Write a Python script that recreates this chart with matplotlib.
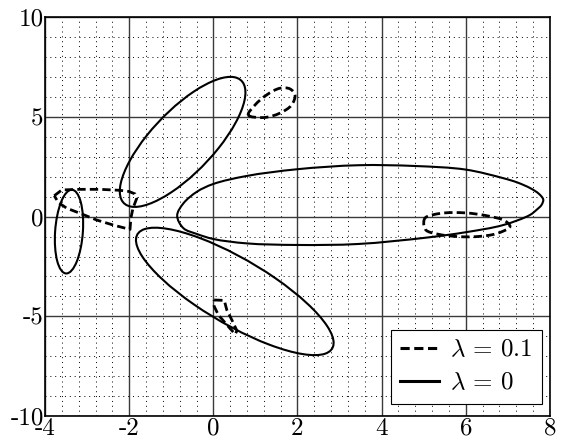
import numpy as np
import matplotlib
matplotlib.use("Agg")
import matplotlib.pyplot as plt
from matplotlib.patches import Ellipse, PathPatch
from matplotlib.path import Path
from matplotlib.lines import Line2D
from matplotlib.ticker import MultipleLocator

plt.rcParams['font.family'] = 'serif'
plt.rcParams['font.serif'] = ['cmr10', 'DejaVu Serif']
plt.rcParams['mathtext.fontset'] = 'cm'
plt.rcParams['axes.unicode_minus'] = False

# ---- data ----
x_ticks = [-4, -2, 0, 2, 4, 6, 8]
x_tick_labels = ['-4', '-2', '0', '2', '4', '6', '8']
y_ticks = [-10, -5, 0, 5, 10]
y_tick_labels = ['-10', '-5', '0', '5', '10']

# solid (lambda = 0) ellipses: centre x, centre y, full major axis, full minor axis, angle (deg)
ell_cx = [-3.43, -0.73, 0.51]
ell_cy = [-0.75, 3.75, -3.75]
ell_major = [4.20, 6.94, 7.58]
ell_minor = [0.66, 1.82, 2.34]
ell_angle = [88.2, 69.3, -55.6]

# solid (lambda = 0) egg-shaped orbit
egg_x = [-0.86, -0.71, -0.39, 0.00, 0.79, 2.00, 3.45, 5.07, 6.00, 6.89, 7.52, 7.68, 7.80,
         7.84, 7.74, 7.54, 7.23, 6.89, 6.00, 4.80, 3.45, 2.00, 0.79, 0.00, -0.39, -0.71]
egg_y = [0.05, -0.58, -0.87, -1.12, -1.34, -1.42, -1.37, -1.05, -0.78, -0.42, 0.08, 0.34, 0.59,
         0.86, 1.14, 1.42, 1.71, 1.93, 2.36, 2.54, 2.58, 2.38, 2.04, 1.64, 1.25, 0.67]

# dashed (lambda = 0.1) orbits
d1_x = [-3.78, -3.60, -3.17, -2.69, -2.21, -2.00, -1.86, -1.82, -1.91, -1.96, -1.98, -2.38, -2.77, -3.17, -3.48, -3.68]
d1_y = [1.05, 1.34, 1.37, 1.37, 1.32, 1.26, 1.14, 0.92, 0.42, -0.08, -0.64, -0.42, -0.17, 0.17, 0.42, 0.70]

d2_x = [0.83, 1.19, 1.58, 1.86, 1.94, 1.82, 1.58, 1.27, 0.99]
d2_y = [5.10, 4.97, 5.19, 5.60, 6.11, 6.41, 6.44, 6.11, 5.60]

d3_x = [5.00, 5.04, 5.42, 5.98, 6.49, 6.93, 7.05, 6.73, 6.26, 5.82, 5.34, 5.05]
d3_y = [-0.30, -0.05, 0.17, 0.19, 0.05, -0.21, -0.50, -0.85, -1.00, -1.00, -0.88, -0.67]

d4_x = [0.02, 0.26, 0.32, 0.44, 0.56, 0.52, 0.36, 0.12, 0.02]
d4_y = [-4.18, -4.20, -4.68, -5.18, -5.72, -5.90, -5.52, -4.93, -4.50]

# approximate pixel scale of one data unit (x, y) used only for curve parameterisation
SX, SY = 42.0, 20.0


def smooth_closed_path(xs, ys, alpha=0.5):
    """Centripetal Catmull-Rom through the points, expressed as cubic Bezier segments."""
    p = np.column_stack([xs, ys]).astype(float)
    n = len(p)
    scale = np.array([SX, SY])

    def d(a, b):
        return max(np.linalg.norm((b - a) * scale) ** alpha, 1e-6)

    verts = [p[0]]
    codes = [Path.MOVETO]
    for i in range(n):
        p0, p1, p2, p3 = p[i - 1], p[i], p[(i + 1) % n], p[(i + 2) % n]
        d1, d2, d3 = d(p0, p1), d(p1, p2), d(p2, p3)
        c1 = (d1 ** 2 * p2 - d2 ** 2 * p0 + (2 * d1 ** 2 + 3 * d1 * d2 + d2 ** 2) * p1) / (3 * d1 * (d1 + d2))
        c2 = (d3 ** 2 * p1 - d2 ** 2 * p3 + (2 * d3 ** 2 + 3 * d3 * d2 + d2 ** 2) * p2) / (3 * d3 * (d3 + d2))
        verts += [c1, c2, p2]
        codes += [Path.CURVE4] * 3
    return Path(np.array(verts), codes)


def poly_closed_path(xs, ys):
    p = np.column_stack([xs, ys]).astype(float)
    verts = np.vstack([p, p[:1]])
    codes = [Path.MOVETO] + [Path.LINETO] * (len(p) - 1) + [Path.CLOSEPOLY]
    return Path(verts, codes)


fig = plt.figure(figsize=(5.62, 4.40), dpi=100)
ax = fig.add_axes([0.0801, 0.0545, 0.8985, 0.9062])
ax.set_xlim(-4, 8)
ax.set_ylim(-10, 10)

ax.xaxis.set_minor_locator(MultipleLocator(0.4))
ax.yaxis.set_minor_locator(MultipleLocator(1))
ax.set_xticks(x_ticks)
ax.set_xticklabels(x_tick_labels)
ax.set_yticks(y_ticks)
ax.set_yticklabels(y_tick_labels)
ax.grid(True, which='major', color='#3a3a3a', linestyle='-', linewidth=1.0)
ax.grid(True, which='minor', color='black', linestyle=(0, (1, 4)), linewidth=0.7)
ax.set_axisbelow(True)
ax.tick_params(which='both', length=0, labelsize=18, pad=1)
for s in ax.spines.values():
    s.set_linewidth(1.2)
    s.set_color('black')

solid_kw = dict(fill=False, edgecolor='black', linewidth=1.5, zorder=3)
dash_kw = dict(fill=False, edgecolor='black', linewidth=2.0, linestyle=(0, (3.0, 1.5)), zorder=4)

for cx, cy, w, h, a in zip(ell_cx, ell_cy, ell_major, ell_minor, ell_angle):
    ax.add_patch(Ellipse((cx, cy), w, h, angle=a, **solid_kw))
ax.add_patch(PathPatch(smooth_closed_path(egg_x, egg_y), **solid_kw))

ax.add_patch(PathPatch(poly_closed_path(d1_x, d1_y), joinstyle='round', **dash_kw))
ax.add_patch(PathPatch(smooth_closed_path(d2_x, d2_y), **dash_kw))
ax.add_patch(PathPatch(smooth_closed_path(d3_x, d3_y), **dash_kw))
ax.add_patch(PathPatch(poly_closed_path(d4_x, d4_y), **dash_kw))

handles = [Line2D([], [], color='black', linewidth=2.2, linestyle=(0, (3.0, 1.5))),
           Line2D([], [], color='black', linewidth=2.2, linestyle='-')]
labels = [r'$\lambda\,=\,0.1$', r'$\lambda\,=\,0$']
leg = ax.legend(handles, labels, loc='lower right', bbox_to_anchor=(0.984, 0.030),
                fontsize=18, frameon=True, fancybox=False,
                framealpha=1, edgecolor='black', handlelength=1.55, handletextpad=0.45,
                labelspacing=0.42, borderpad=0.38, borderaxespad=0.0)
leg.get_frame().set_linewidth(0.8)

fig.savefig('out.png', dpi=100)
